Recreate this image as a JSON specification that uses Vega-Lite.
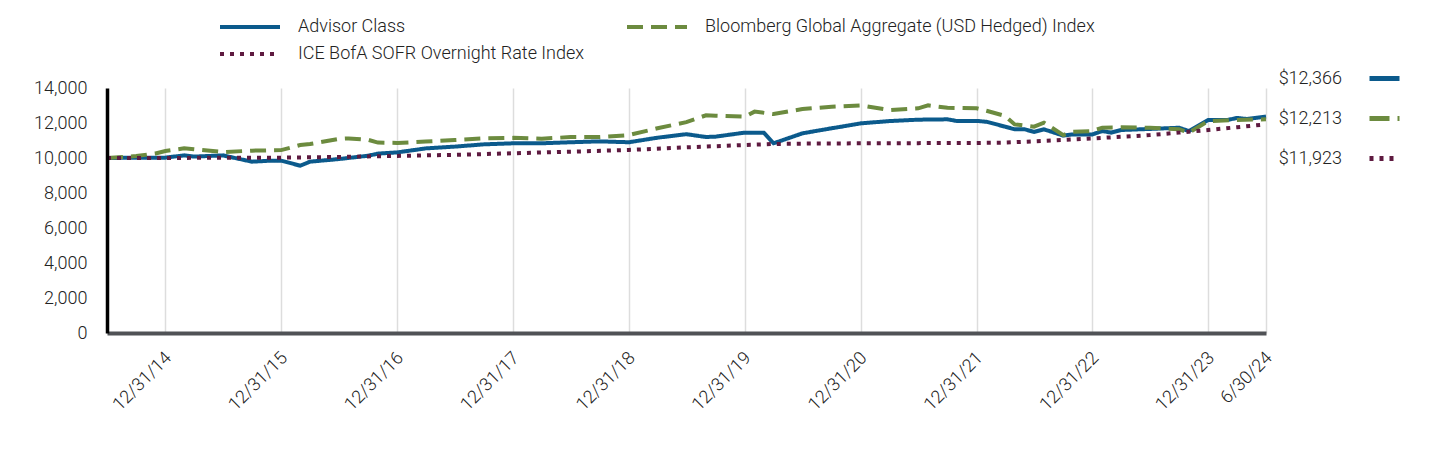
{
  "$schema": "https://vega.github.io/schema/vega-lite/v6.json",
  "width": 1159,
  "height": 245,
  "autosize": {"type": "none"},
  "padding": {"left": 107, "top": 88, "right": 174, "bottom": 123},
  "background": "white",
  "config": {
    "view": {"stroke": null},
    "font": "Roboto",
    "legend": {"padding": 0}
  },
  "datasets": {
    "lines": [
      {"series": "Advisor Class", "date": "2014-06-30", "value": 10000},
      {"series": "Advisor Class", "date": "2014-09-30", "value": 10020},
      {"series": "Advisor Class", "date": "2014-12-31", "value": 10020},
      {"series": "Advisor Class", "date": "2015-02-28", "value": 10150},
      {"series": "Advisor Class", "date": "2015-03-31", "value": 10080},
      {"series": "Advisor Class", "date": "2015-06-30", "value": 10150},
      {"series": "Advisor Class", "date": "2015-09-30", "value": 9790},
      {"series": "Advisor Class", "date": "2015-11-30", "value": 9850},
      {"series": "Advisor Class", "date": "2015-12-31", "value": 9850},
      {"series": "Advisor Class", "date": "2016-02-29", "value": 9560},
      {"series": "Advisor Class", "date": "2016-03-31", "value": 9790},
      {"series": "Advisor Class", "date": "2016-06-30", "value": 9940},
      {"series": "Advisor Class", "date": "2016-09-30", "value": 10130},
      {"series": "Advisor Class", "date": "2016-10-31", "value": 10250},
      {"series": "Advisor Class", "date": "2016-12-31", "value": 10320},
      {"series": "Advisor Class", "date": "2017-03-31", "value": 10550},
      {"series": "Advisor Class", "date": "2017-06-30", "value": 10650},
      {"series": "Advisor Class", "date": "2017-09-30", "value": 10780},
      {"series": "Advisor Class", "date": "2017-12-31", "value": 10840},
      {"series": "Advisor Class", "date": "2018-03-31", "value": 10840},
      {"series": "Advisor Class", "date": "2018-06-30", "value": 10900},
      {"series": "Advisor Class", "date": "2018-09-30", "value": 10950},
      {"series": "Advisor Class", "date": "2018-12-31", "value": 10900},
      {"series": "Advisor Class", "date": "2019-03-31", "value": 11160},
      {"series": "Advisor Class", "date": "2019-06-30", "value": 11360},
      {"series": "Advisor Class", "date": "2019-08-31", "value": 11200},
      {"series": "Advisor Class", "date": "2019-09-30", "value": 11220},
      {"series": "Advisor Class", "date": "2019-12-31", "value": 11450},
      {"series": "Advisor Class", "date": "2020-02-29", "value": 11450},
      {"series": "Advisor Class", "date": "2020-03-31", "value": 10840},
      {"series": "Advisor Class", "date": "2020-06-30", "value": 11410},
      {"series": "Advisor Class", "date": "2020-09-30", "value": 11700},
      {"series": "Advisor Class", "date": "2020-10-31", "value": 11790},
      {"series": "Advisor Class", "date": "2020-12-31", "value": 11980},
      {"series": "Advisor Class", "date": "2021-03-31", "value": 12110},
      {"series": "Advisor Class", "date": "2021-06-30", "value": 12190},
      {"series": "Advisor Class", "date": "2021-09-30", "value": 12210},
      {"series": "Advisor Class", "date": "2021-10-31", "value": 12110},
      {"series": "Advisor Class", "date": "2021-12-31", "value": 12120},
      {"series": "Advisor Class", "date": "2022-01-31", "value": 12070},
      {"series": "Advisor Class", "date": "2022-03-31", "value": 11790},
      {"series": "Advisor Class", "date": "2022-04-30", "value": 11640},
      {"series": "Advisor Class", "date": "2022-05-31", "value": 11640},
      {"series": "Advisor Class", "date": "2022-06-30", "value": 11490},
      {"series": "Advisor Class", "date": "2022-07-31", "value": 11640},
      {"series": "Advisor Class", "date": "2022-09-30", "value": 11280},
      {"series": "Advisor Class", "date": "2022-10-31", "value": 11350},
      {"series": "Advisor Class", "date": "2022-12-31", "value": 11350},
      {"series": "Advisor Class", "date": "2023-01-31", "value": 11540},
      {"series": "Advisor Class", "date": "2023-02-28", "value": 11450},
      {"series": "Advisor Class", "date": "2023-03-31", "value": 11600},
      {"series": "Advisor Class", "date": "2023-06-30", "value": 11660},
      {"series": "Advisor Class", "date": "2023-09-30", "value": 11730},
      {"series": "Advisor Class", "date": "2023-10-31", "value": 11540},
      {"series": "Advisor Class", "date": "2023-12-31", "value": 12170},
      {"series": "Advisor Class", "date": "2024-02-29", "value": 12170},
      {"series": "Advisor Class", "date": "2024-03-31", "value": 12290},
      {"series": "Advisor Class", "date": "2024-04-30", "value": 12230},
      {"series": "Advisor Class", "date": "2024-06-30", "value": 12366},

      {"series": "Bloomberg Global Aggregate (USD Hedged) Index", "date": "2014-06-30", "value": 10000},
      {"series": "Bloomberg Global Aggregate (USD Hedged) Index", "date": "2014-09-30", "value": 10110},
      {"series": "Bloomberg Global Aggregate (USD Hedged) Index", "date": "2014-11-30", "value": 10260},
      {"series": "Bloomberg Global Aggregate (USD Hedged) Index", "date": "2014-12-31", "value": 10400},
      {"series": "Bloomberg Global Aggregate (USD Hedged) Index", "date": "2015-02-28", "value": 10550},
      {"series": "Bloomberg Global Aggregate (USD Hedged) Index", "date": "2015-03-31", "value": 10500},
      {"series": "Bloomberg Global Aggregate (USD Hedged) Index", "date": "2015-06-30", "value": 10340},
      {"series": "Bloomberg Global Aggregate (USD Hedged) Index", "date": "2015-09-30", "value": 10420},
      {"series": "Bloomberg Global Aggregate (USD Hedged) Index", "date": "2015-12-31", "value": 10450},
      {"series": "Bloomberg Global Aggregate (USD Hedged) Index", "date": "2016-02-29", "value": 10740},
      {"series": "Bloomberg Global Aggregate (USD Hedged) Index", "date": "2016-03-31", "value": 10800},
      {"series": "Bloomberg Global Aggregate (USD Hedged) Index", "date": "2016-06-30", "value": 11090},
      {"series": "Bloomberg Global Aggregate (USD Hedged) Index", "date": "2016-07-31", "value": 11120},
      {"series": "Bloomberg Global Aggregate (USD Hedged) Index", "date": "2016-09-30", "value": 11040},
      {"series": "Bloomberg Global Aggregate (USD Hedged) Index", "date": "2016-10-31", "value": 10880},
      {"series": "Bloomberg Global Aggregate (USD Hedged) Index", "date": "2016-12-31", "value": 10860},
      {"series": "Bloomberg Global Aggregate (USD Hedged) Index", "date": "2017-03-31", "value": 10940},
      {"series": "Bloomberg Global Aggregate (USD Hedged) Index", "date": "2017-06-30", "value": 11030},
      {"series": "Bloomberg Global Aggregate (USD Hedged) Index", "date": "2017-09-30", "value": 11120},
      {"series": "Bloomberg Global Aggregate (USD Hedged) Index", "date": "2017-12-31", "value": 11150},
      {"series": "Bloomberg Global Aggregate (USD Hedged) Index", "date": "2018-03-31", "value": 11100},
      {"series": "Bloomberg Global Aggregate (USD Hedged) Index", "date": "2018-06-30", "value": 11200},
      {"series": "Bloomberg Global Aggregate (USD Hedged) Index", "date": "2018-09-30", "value": 11200},
      {"series": "Bloomberg Global Aggregate (USD Hedged) Index", "date": "2018-12-31", "value": 11310},
      {"series": "Bloomberg Global Aggregate (USD Hedged) Index", "date": "2019-03-31", "value": 11700},
      {"series": "Bloomberg Global Aggregate (USD Hedged) Index", "date": "2019-06-30", "value": 12050},
      {"series": "Bloomberg Global Aggregate (USD Hedged) Index", "date": "2019-08-31", "value": 12440},
      {"series": "Bloomberg Global Aggregate (USD Hedged) Index", "date": "2019-09-30", "value": 12420},
      {"series": "Bloomberg Global Aggregate (USD Hedged) Index", "date": "2019-12-31", "value": 12360},
      {"series": "Bloomberg Global Aggregate (USD Hedged) Index", "date": "2020-01-31", "value": 12650},
      {"series": "Bloomberg Global Aggregate (USD Hedged) Index", "date": "2020-03-31", "value": 12510},
      {"series": "Bloomberg Global Aggregate (USD Hedged) Index", "date": "2020-06-30", "value": 12800},
      {"series": "Bloomberg Global Aggregate (USD Hedged) Index", "date": "2020-09-30", "value": 12930},
      {"series": "Bloomberg Global Aggregate (USD Hedged) Index", "date": "2020-12-31", "value": 13010},
      {"series": "Bloomberg Global Aggregate (USD Hedged) Index", "date": "2021-03-31", "value": 12740},
      {"series": "Bloomberg Global Aggregate (USD Hedged) Index", "date": "2021-06-30", "value": 12840},
      {"series": "Bloomberg Global Aggregate (USD Hedged) Index", "date": "2021-07-31", "value": 13010},
      {"series": "Bloomberg Global Aggregate (USD Hedged) Index", "date": "2021-09-30", "value": 12870},
      {"series": "Bloomberg Global Aggregate (USD Hedged) Index", "date": "2021-12-31", "value": 12840},
      {"series": "Bloomberg Global Aggregate (USD Hedged) Index", "date": "2022-01-31", "value": 12700},
      {"series": "Bloomberg Global Aggregate (USD Hedged) Index", "date": "2022-03-31", "value": 12400},
      {"series": "Bloomberg Global Aggregate (USD Hedged) Index", "date": "2022-04-30", "value": 11920},
      {"series": "Bloomberg Global Aggregate (USD Hedged) Index", "date": "2022-06-30", "value": 11790},
      {"series": "Bloomberg Global Aggregate (USD Hedged) Index", "date": "2022-07-31", "value": 12020},
      {"series": "Bloomberg Global Aggregate (USD Hedged) Index", "date": "2022-09-30", "value": 11310},
      {"series": "Bloomberg Global Aggregate (USD Hedged) Index", "date": "2022-10-31", "value": 11500},
      {"series": "Bloomberg Global Aggregate (USD Hedged) Index", "date": "2022-12-31", "value": 11540},
      {"series": "Bloomberg Global Aggregate (USD Hedged) Index", "date": "2023-01-31", "value": 11730},
      {"series": "Bloomberg Global Aggregate (USD Hedged) Index", "date": "2023-03-31", "value": 11750},
      {"series": "Bloomberg Global Aggregate (USD Hedged) Index", "date": "2023-06-30", "value": 11730},
      {"series": "Bloomberg Global Aggregate (USD Hedged) Index", "date": "2023-09-30", "value": 11640},
      {"series": "Bloomberg Global Aggregate (USD Hedged) Index", "date": "2023-10-31", "value": 11450},
      {"series": "Bloomberg Global Aggregate (USD Hedged) Index", "date": "2023-12-31", "value": 12110},
      {"series": "Bloomberg Global Aggregate (USD Hedged) Index", "date": "2024-03-31", "value": 12170},
      {"series": "Bloomberg Global Aggregate (USD Hedged) Index", "date": "2024-06-30", "value": 12213},

      {"series": "ICE BofA SOFR Overnight Rate Index", "date": "2014-06-30", "value": 10000},
      {"series": "ICE BofA SOFR Overnight Rate Index", "date": "2015-06-30", "value": 10010},
      {"series": "ICE BofA SOFR Overnight Rate Index", "date": "2015-12-31", "value": 10020},
      {"series": "ICE BofA SOFR Overnight Rate Index", "date": "2016-06-30", "value": 10060},
      {"series": "ICE BofA SOFR Overnight Rate Index", "date": "2016-12-31", "value": 10120},
      {"series": "ICE BofA SOFR Overnight Rate Index", "date": "2017-06-30", "value": 10180},
      {"series": "ICE BofA SOFR Overnight Rate Index", "date": "2017-12-31", "value": 10270},
      {"series": "ICE BofA SOFR Overnight Rate Index", "date": "2018-06-30", "value": 10360},
      {"series": "ICE BofA SOFR Overnight Rate Index", "date": "2018-12-31", "value": 10460},
      {"series": "ICE BofA SOFR Overnight Rate Index", "date": "2019-06-30", "value": 10610},
      {"series": "ICE BofA SOFR Overnight Rate Index", "date": "2019-12-31", "value": 10740},
      {"series": "ICE BofA SOFR Overnight Rate Index", "date": "2020-03-31", "value": 10800},
      {"series": "ICE BofA SOFR Overnight Rate Index", "date": "2020-06-30", "value": 10820},
      {"series": "ICE BofA SOFR Overnight Rate Index", "date": "2020-12-31", "value": 10840},
      {"series": "ICE BofA SOFR Overnight Rate Index", "date": "2021-06-30", "value": 10850},
      {"series": "ICE BofA SOFR Overnight Rate Index", "date": "2021-12-31", "value": 10860},
      {"series": "ICE BofA SOFR Overnight Rate Index", "date": "2022-03-31", "value": 10880},
      {"series": "ICE BofA SOFR Overnight Rate Index", "date": "2022-06-30", "value": 10950},
      {"series": "ICE BofA SOFR Overnight Rate Index", "date": "2022-09-30", "value": 11030},
      {"series": "ICE BofA SOFR Overnight Rate Index", "date": "2022-12-31", "value": 11120},
      {"series": "ICE BofA SOFR Overnight Rate Index", "date": "2023-03-31", "value": 11210},
      {"series": "ICE BofA SOFR Overnight Rate Index", "date": "2023-06-30", "value": 11310},
      {"series": "ICE BofA SOFR Overnight Rate Index", "date": "2023-09-30", "value": 11450},
      {"series": "ICE BofA SOFR Overnight Rate Index", "date": "2023-12-31", "value": 11600},
      {"series": "ICE BofA SOFR Overnight Rate Index", "date": "2024-03-31", "value": 11760},
      {"series": "ICE BofA SOFR Overnight Rate Index", "date": "2024-06-30", "value": 11923}
    ],
    "ends": [
      {"endLabel": "$12,366", "date": "2024-06-30", "value": 12366},
      {"endLabel": "$12,213", "date": "2024-06-30", "value": 12213},
      {"endLabel": "$11,923", "date": "2024-06-30", "value": 11923}
    ]
  },
  "encoding": {
    "x": {
      "field": "date",
      "type": "temporal",
      "scale": {
        "type": "utc",
        "nice": false,
        "domain": [
          {"year": 2014, "month": 6, "date": 30, "utc": true},
          {"year": 2024, "month": 6, "date": 30, "utc": true}
        ]
      },
      "axis": {
        "title": null,
        "values": [
          {"year": 2014, "month": 12, "date": 31, "utc": true},
          {"year": 2015, "month": 12, "date": 31, "utc": true},
          {"year": 2016, "month": 12, "date": 31, "utc": true},
          {"year": 2017, "month": 12, "date": 31, "utc": true},
          {"year": 2018, "month": 12, "date": 31, "utc": true},
          {"year": 2019, "month": 12, "date": 31, "utc": true},
          {"year": 2020, "month": 12, "date": 31, "utc": true},
          {"year": 2021, "month": 12, "date": 31, "utc": true},
          {"year": 2022, "month": 12, "date": 31, "utc": true},
          {"year": 2023, "month": 12, "date": 31, "utc": true},
          {"year": 2024, "month": 6, "date": 30, "utc": true}
        ],
        "labelExpr": "utcFormat(datum.value, '%-m/%d/%y')",
        "labelAngle": -45,
        "labelAlign": "right",
        "labelBaseline": "middle",
        "labelFontSize": 18,
        "labelFontWeight": 300,
        "labelColor": "#222222",
        "labelPadding": 22,
        "labelOffset": 3,
        "labelOverlap": false,
        "labelBound": false,
        "labelFlush": false,
        "ticks": false,
        "grid": true,
        "gridColor": "#dddddd",
        "gridWidth": 1.5,
        "domain": true,
        "domainColor": "#505256",
        "domainWidth": 4,
        "zindex": 0
      }
    },
    "y": {
      "field": "value",
      "type": "quantitative",
      "scale": {"domain": [0, 14000], "nice": false, "zero": true},
      "axis": {
        "title": null,
        "values": [0, 2000, 4000, 6000, 8000, 10000, 12000, 14000],
        "format": ",d",
        "labelFontSize": 18,
        "labelFontWeight": 300,
        "labelColor": "#222222",
        "labelPadding": 20,
        "ticks": false,
        "grid": false,
        "domain": true,
        "domainColor": "#000000",
        "domainWidth": 3.5,
        "zindex": 1
      }
    }
  },
  "layer": [
    {
      "data": {"name": "lines"},
      "mark": {"type": "line", "strokeWidth": 4, "clip": false},
      "encoding": {
        "color": {
          "field": "series",
          "type": "nominal",
          "scale": {
            "domain": ["Advisor Class", "Bloomberg Global Aggregate (USD Hedged) Index", "ICE BofA SOFR Overnight Rate Index"],
            "range": ["#0b5a8c", "#6c8b3f", "#5e1a40"]
          },
          "legend": {
            "title": null,
            "orient": "none",
            "legendX": 131,
            "legendY": -73,
            "direction": "horizontal",
            "columns": 2,
            "columnPadding": 34,
            "rowPadding": 6,
            "symbolType": "M-3,0H3",
            "symbolSize": 400,
            "symbolStrokeWidth": 4,
            "labelFontSize": 18,
            "labelFontWeight": 300,
            "labelColor": "#222222",
            "labelOffset": 36,
            "labelLimit": 600
          }
        },
        "strokeDash": {
          "field": "series",
          "type": "nominal",
          "scale": {
            "domain": ["Advisor Class", "Bloomberg Global Aggregate (USD Hedged) Index", "ICE BofA SOFR Overnight Rate Index"],
            "range": [[1, 0], [16, 8], [4, 6]]
          },
          "legend": {
            "title": null,
            "orient": "none",
            "legendX": 131,
            "legendY": -73,
            "direction": "horizontal",
            "columns": 2,
            "columnPadding": 34,
            "rowPadding": 6,
            "symbolType": "M-3,0H3",
            "symbolSize": 400,
            "symbolStrokeWidth": 4,
            "labelFontSize": 18,
            "labelFontWeight": 300,
            "labelColor": "#222222",
            "labelOffset": 36,
            "labelLimit": 600
          }
        },
        "order": {"field": "date", "type": "temporal"}
      }
    },
    {
      "data": {"name": "ends"},
      "mark": {"type": "line", "strokeWidth": 5, "clip": false},
      "encoding": {
        "color": {
          "field": "endLabel",
          "type": "nominal",
          "scale": {
            "domain": ["$12,366", "$12,213", "$11,923"],
            "range": ["#0b5a8c", "#6c8b3f", "#5e1a40"]
          },
          "legend": {
            "title": null,
            "orient": "none",
            "legendX": 1260,
            "legendY": -27,
            "direction": "vertical",
            "rowPadding": 12,
            "symbolType": "stroke",
            "symbolSize": 900,
            "symbolStrokeWidth": 5,
            "labelFontSize": 18,
            "labelFontWeight": 300,
            "labelColor": "#222222",
            "labelAlign": "right",
            "labelOffset": -60
          }
        },
        "strokeDash": {
          "field": "endLabel",
          "type": "nominal",
          "scale": {
            "domain": ["$12,366", "$12,213", "$11,923"],
            "range": [[1, 0], [20, 8], [4, 6]]
          },
          "legend": {
            "title": null,
            "orient": "none",
            "legendX": 1260,
            "legendY": -27,
            "direction": "vertical",
            "rowPadding": 12,
            "symbolType": "stroke",
            "symbolSize": 900,
            "symbolStrokeWidth": 5,
            "labelFontSize": 18,
            "labelFontWeight": 300,
            "labelColor": "#222222",
            "labelAlign": "right",
            "labelOffset": -60
          }
        }
      }
    }
  ],
  "resolve": {
    "scale": {"color": "independent", "strokeDash": "independent"}
  }
}
